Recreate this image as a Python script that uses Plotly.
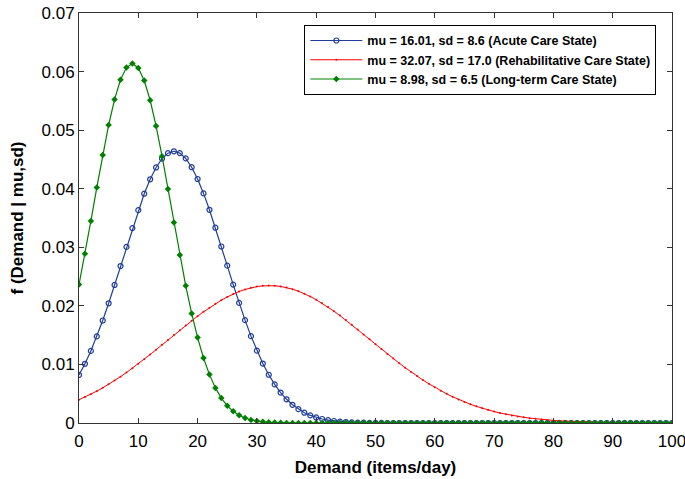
import plotly.graph_objects as go

demand = list(range(0, 101))

acute = [0.00820, 0.01011, 0.01231, 0.01478, 0.01750, 0.02044, 0.02357, 0.02680, 0.03006, 0.03328,
         0.03634, 0.03915, 0.04161, 0.04363, 0.04514, 0.04607, 0.04639, 0.04608, 0.04517, 0.04367,
         0.04166, 0.03920, 0.03640, 0.03334, 0.03013, 0.02686, 0.02363, 0.02050, 0.01756, 0.01483,
         0.01235, 0.01015, 0.00824, 0.00659, 0.00520, 0.00405, 0.00311, 0.00236, 0.00176, 0.00130,
         0.00095, 0.00068, 0.00048, 0.00034, 0.00023, 0.00016, 0.00011, 0.00007, 0.00005, 0.00003,
         0.00002, 0.00001, 0.0, 0.0, 0.0, 0.0, 0.0, 0.0, 0.0, 0.0,
         0.0, 0.0, 0.0, 0.0, 0.0, 0.0, 0.0, 0.0, 0.0, 0.0,
         0.0, 0.0, 0.0, 0.0, 0.0, 0.0, 0.0, 0.0, 0.0, 0.0,
         0.0, 0.0, 0.0, 0.0, 0.0, 0.0, 0.0, 0.0, 0.0, 0.0,
         0.0, 0.0, 0.0, 0.0, 0.0, 0.0, 0.0, 0.0, 0.0, 0.0, 0.0]

rehab = [0.00396, 0.00442, 0.00491, 0.00544, 0.00600, 0.00661, 0.00724, 0.00791, 0.00861, 0.00934,
         0.01010, 0.01089, 0.01169, 0.01251, 0.01334, 0.01417, 0.01501, 0.01584, 0.01666, 0.01746,
         0.01824, 0.01898, 0.01969, 0.02036, 0.02097, 0.02152, 0.02202, 0.02245, 0.02280, 0.02309,
         0.02329, 0.02342, 0.02347, 0.02343, 0.02332, 0.02312, 0.02285, 0.02250, 0.02208, 0.02160,
         0.02105, 0.02044, 0.01979, 0.01909, 0.01835, 0.01757, 0.01678, 0.01596, 0.01513, 0.01429,
         0.01346, 0.01262, 0.01180, 0.01100, 0.01021, 0.00945, 0.00871, 0.00801, 0.00733, 0.00669,
         0.00609, 0.00552, 0.00498, 0.00448, 0.00402, 0.00360, 0.00320, 0.00284, 0.00252, 0.00222,
         0.00195, 0.00170, 0.00149, 0.00129, 0.00112, 0.00097, 0.00083, 0.00071, 0.00061, 0.00052,
         0.00044, 0.00037, 0.00031, 0.00026, 0.00022, 0.00018, 0.00015, 0.00013, 0.00010, 0.00009,
         0.00007, 0.00006, 0.00005, 0.00004, 0.00003, 0.00002, 0.00002, 0.00002, 0.00001, 0.00001, 0.00001]

longterm = [0.02364, 0.02889, 0.03448, 0.04020, 0.04577, 0.05088, 0.05525, 0.05860, 0.06068, 0.06137,
            0.06062, 0.05848, 0.05510, 0.05069, 0.04555, 0.03997, 0.03425, 0.02867, 0.02343, 0.01871,
            0.01458, 0.01110, 0.00826, 0.00599, 0.00425, 0.00294, 0.00199, 0.00132, 0.00085, 0.00053,
            0.00033, 0.00020, 0.00012, 0.00007, 0.00004, 0.00002, 0.00001, 0.0, 0.0, 0.0,
            0.0, 0.0, 0.0, 0.0, 0.0, 0.0, 0.0, 0.0, 0.0, 0.0,
            0.0, 0.0, 0.0, 0.0, 0.0, 0.0, 0.0, 0.0, 0.0, 0.0,
            0.0, 0.0, 0.0, 0.0, 0.0, 0.0, 0.0, 0.0, 0.0, 0.0,
            0.0, 0.0, 0.0, 0.0, 0.0, 0.0, 0.0, 0.0, 0.0, 0.0,
            0.0, 0.0, 0.0, 0.0, 0.0, 0.0, 0.0, 0.0, 0.0, 0.0,
            0.0, 0.0, 0.0, 0.0, 0.0, 0.0, 0.0, 0.0, 0.0, 0.0, 0.0]

names = ["mu = 16.01, sd = 8.6 (Acute Care State)",
         "mu = 32.07, sd = 17.0 (Rehabilitative Care State)",
         "mu = 8.98, sd = 6.5 (Long-term Care State)"]

x_ticks = list(range(0, 101, 10))
y_ticks = [0, 0.01, 0.02, 0.03, 0.04, 0.05, 0.06, 0.07]
y_tick_labels = ["0", "0.01", "0.02", "0.03", "0.04", "0.05", "0.06", "0.07"]

FONT = "Liberation Sans, Arial, sans-serif"

fig = go.Figure()
fig.add_trace(go.Scatter(
    x=demand, y=acute, name=names[0], mode="lines+markers",
    line=dict(color="#1f3d99", width=1.2),
    marker=dict(symbol="circle-open", size=5, color="#1f3d99", line=dict(width=1.2, color="#1f3d99")),
))
fig.add_trace(go.Scatter(
    x=demand, y=rehab, name=names[1], mode="lines+markers",
    line=dict(color="#ff0000", width=1),
    marker=dict(symbol="circle", size=2, color="#ff0000"),
))
fig.add_trace(go.Scatter(
    x=demand, y=longterm, name=names[2], mode="lines+markers",
    line=dict(color="#008000", width=1.2),
    marker=dict(symbol="diamond", size=5, color="#008000"),
))

axis_common = dict(
    showline=True, linecolor="#333333", linewidth=1, mirror="ticks",
    ticks="inside", ticklen=5, tickcolor="#333333", tickwidth=1,
    showgrid=False, zeroline=False, automargin=False,
    ticklabeloverflow="allow",
    tickfont=dict(family=FONT, size=17, color="#000000"),
)

fig.update_layout(
    width=685, height=479,
    margin=dict(l=79, r=13, t=13, b=56),
    paper_bgcolor="white", plot_bgcolor="white",
    font=dict(family=FONT, color="#000000"),
    xaxis=dict(range=[0, 100], tickvals=x_ticks, ticklabelstandoff=3,
               title=dict(text="<b>Demand (items/day)</b>", font=dict(family=FONT, size=17), standoff=10),
               **axis_common),
    yaxis=dict(range=[0, 0.07], tickvals=y_ticks, ticktext=y_tick_labels,
               title=dict(text="<b>f (Demand | mu,sd)</b>", font=dict(family=FONT, size=17), standoff=13),
               **axis_common),
    legend=dict(
        x=0.38, y=0.971, xanchor="left", yanchor="top",
        bordercolor="#000000", borderwidth=1, bgcolor="white",
        font=dict(family=FONT, size=12.5, color="#000000", weight="bold"),
        tracegroupgap=0, itemwidth=52,
    ),
    showlegend=True,
)

fig.write_html(
    "out.html",
    config={"displayModeBar": False},
    post_script="document.body.style.margin='0';document.body.style.overflow='hidden';",
)
